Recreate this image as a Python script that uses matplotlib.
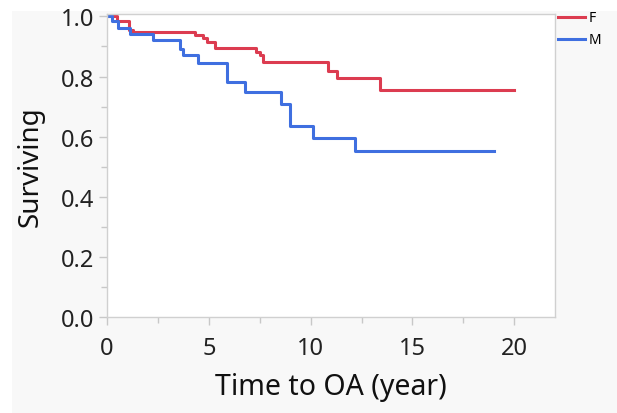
import numpy as np
import matplotlib.pyplot as plt
from matplotlib.patches import Rectangle
from matplotlib.ticker import MultipleLocator

# Kaplan-Meier step points (time in years, survival)
f_time = [0, 0.49, 1.08, 1.27, 4.31, 4.70, 4.90, 5.29, 7.34, 7.50, 7.66, 10.85, 11.29, 13.43, 20.0]
f_surv = [1.0, 0.986, 0.956, 0.948, 0.939, 0.928, 0.916, 0.895, 0.881, 0.870, 0.848, 0.820, 0.796, 0.756, 0.756]

m_time = [0, 0.23, 0.55, 1.13, 2.27, 3.58, 3.71, 4.48, 5.87, 6.76, 8.56, 9.00, 10.10, 12.19, 19.0]
m_surv = [1.0, 0.986, 0.961, 0.942, 0.920, 0.892, 0.872, 0.846, 0.783, 0.748, 0.710, 0.634, 0.596, 0.552, 0.552]

plt.rcParams['font.family'] = ['Noto Sans', 'DejaVu Sans']

fig = plt.figure(figsize=(6.17, 4.14), dpi=100, facecolor='#f8f8f8')
# white margin at the top and left like the screenshot
fig.patches.append(Rectangle((0, 0), 12 / 617, 1, transform=fig.transFigure,
                             facecolor='white', edgecolor='none', zorder=-1))
fig.patches.append(Rectangle((0, 1 - 12 / 414), 1, 12 / 414, transform=fig.transFigure,
                             facecolor='white', edgecolor='none', zorder=-1))

ax = fig.add_axes([107 / 617, 1 - 318 / 414, (555 - 107) / 617, (318 - 15) / 414])
ax.set_facecolor('white')

ax.step(f_time, f_surv, where='post', color='#dc3c50', lw=2.2, label='F')
ax.step(m_time, m_surv, where='post', color='#3f6fe0', lw=2.2, label='M')

ax.set_xlim(0, 22)
ax.set_ylim(0, 1.008)
ax.xaxis.set_major_locator(MultipleLocator(5))
ax.xaxis.set_minor_locator(MultipleLocator(2.5))
ax.yaxis.set_major_locator(MultipleLocator(0.2))
ax.yaxis.set_minor_locator(MultipleLocator(0.1))
ax.yaxis.set_major_formatter(plt.FormatStrFormatter('%.1f'))

for s in ax.spines.values():
    s.set_color('#d0d0d0')
    s.set_linewidth(1)
ax.tick_params(which='major', length=6, width=1, color='#c8c8c8',
               labelsize=17, labelcolor='#222222', pad=3)
ax.tick_params(axis='x', which='major', pad=8)
ax.tick_params(which='minor', length=4, width=1, color='#c8c8c8')

ax.set_xlabel('Time to OA (year)', fontsize=20.5, color='#111111', labelpad=8)
ax.set_ylabel('Surviving', fontsize=20, color='#111111', labelpad=12)

ax.legend(loc='upper left', bbox_to_anchor=(0.995, 1.03), frameon=False,
          fontsize=10, handlelength=1.9, handletextpad=0.3, labelspacing=0.5,
          borderaxespad=0)

fig.savefig('out.png', dpi=100, facecolor=fig.get_facecolor())
